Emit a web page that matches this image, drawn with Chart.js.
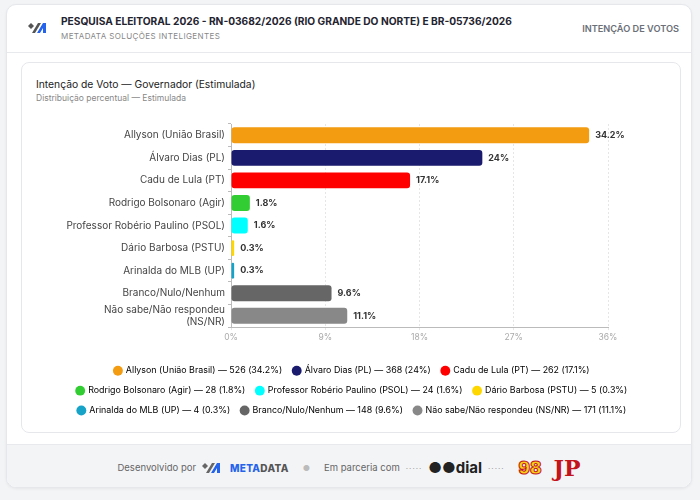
<!DOCTYPE html>
<html lang="pt-BR">
<head>
<meta charset="utf-8">
<title>Intenção de Voto — Governador (Estimulada)</title>
<script src="https://cdn.jsdelivr.net/npm/chart.js@4.4.1/dist/chart.umd.min.js"></script>
<style>
  html, body { margin: 0; padding: 0; }
  body { width: 700px; height: 500px; background: #f3f4f6; font-family: Inter, "Noto Sans", sans-serif; overflow: hidden; }
  .card { position: absolute; left: 6px; top: 4px; width: 686px; height: 484px; background: #fff; border: 1px solid #e5e7eb; border-radius: 10px; box-sizing: border-box; box-shadow: 0 1px 3px rgba(0,0,0,0.06); overflow: hidden; }
  .head { position: absolute; left: 0; top: 0; width: 100%; height: 47px; border-bottom: 1px solid #e8e9ec; }
  .head .logo { position: absolute; left: 21px; top: 17px; }
  .head .t1 { position: absolute; left: 54px; top: 10px; font-size: 10.2px; font-weight: 700; color: #1f2430; white-space: nowrap; }
  .head .t2 { position: absolute; left: 54px; top: 26px; font-size: 8px; color: #888; letter-spacing: 0.4px; }
  .head .right { position: absolute; right: 12px; top: 18px; font-size: 9.2px; font-weight: 600; color: #6b6f78; }
  .inner { position: absolute; left: 14px; top: 57px; width: 660px; height: 371px; border: 1px solid #e5e7eb; border-radius: 8px; box-sizing: border-box; }
  .inner .c1 { position: absolute; left: 14px; top: 15px; font-size: 10.3px; color: #222; }
  .inner .c2 { position: absolute; left: 14px; top: 30px; font-size: 8.5px; color: #888; }
  .chartbox { position: absolute; left: 10px; top: 46px; width: 640px; height: 316px; }
  .foot { position: absolute; left: 0; top: 439px; width: 100%; height: 45px; background: #f3f4f6; border-top: 1px solid #e8e9ec; display: flex; align-items: center; justify-content: center; font-size: 9.5px; color: #666; gap: 6px; }
  .foot .sep { color: #bbb; margin: 0 8px; font-size: 8px; }
  .md { font-weight: 800; font-size: 10px; letter-spacing: 0.3px; }
  .dots { color: #999; letter-spacing: 1px; font-size: 8px; }
  .odial { font-weight: 700; font-size: 15px; color: #222; }
  .n98 { font-weight: 900; font-size: 17px; color: #f7d117; -webkit-text-stroke: 1px #c4141b; margin-left: 8px; }
  .jp { font-weight: 900; font-size: 22px; color: #c4141b; margin-left: 6px; font-family: "DejaVu Serif", serif; }
</style>
</head>
<body>
<div class="card">
  <div class="head">
    <svg class="logo" width="20" height="12" viewBox="0 0 20 12">
      <polygon points="0,4 3,1 6,4 3,7" fill="#555"/>
      <polygon points="4,11 10,1 13,1 7,11" fill="#555"/>
      <polygon points="9,11 15,1 18,1 18,11 15,11 15,6 12,11" fill="#2563eb"/>
    </svg>
    <div class="t1">PESQUISA ELEITORAL 2026 - RN-03682/2026 (RIO GRANDE DO NORTE) E BR-05736/2026</div>
    <div class="t2">METADATA SOLUÇÕES INTELIGENTES</div>
    <div class="right">INTENÇÃO DE VOTOS</div>
  </div>
  <div class="inner">
    <div class="c1">Intenção de Voto — Governador (Estimulada)</div>
    <div class="c2">Distribuição percentual — Estimulada</div>
    <div class="chartbox"><canvas id="myChart"></canvas></div>
  </div>
  <div class="foot">
    <span>Desenvolvido por</span>
    <svg width="22" height="12" viewBox="0 0 22 12">
      <polygon points="0,4 3,1 6,4 3,7" fill="#666"/>
      <polygon points="4,11 10,1 13,1 7,11" fill="#666"/>
      <polygon points="9,11 15,1 18,1 18,11 15,11 15,6 12,11" fill="#2563eb"/>
    </svg>
    <span class="md"><span style="color:#2563eb">META</span><span style="color:#555">DATA</span></span>
    <span class="sep">●</span>
    <span>Em parceria com</span>
    <span class="dots">·····</span><span class="odial">●●dial</span><span class="dots">·····</span>
    <span class="n98">98</span>
    <span class="jp">JP</span>
  </div>
</div>
<script>
var categories = ['Allyson (União Brasil)', 'Álvaro Dias (PL)', 'Cadu de Lula (PT)', 'Rodrigo Bolsonaro (Agir)', 'Professor Robério Paulino (PSOL)', 'Dário Barbosa (PSTU)', 'Arinalda do MLB (UP)', 'Branco/Nulo/Nenhum', 'Não sabe/Não respondeu (NS/NR)'];
var percents = [34.2, 24, 17.1, 1.8, 1.6, 0.3, 0.3, 9.6, 11.1];
var counts = [526, 368, 262, 28, 24, 5, 4, 148, 171];
var colors = ['#f39c12', '#1a1a6e', '#ff0000', '#32cd32', '#00ffff', '#ffd700', '#17a2c8', '#666666', '#888888'];
var xTicks = [0, 9, 18, 27, 36];

var valueLabels = {
  id: 'valueLabels',
  afterDatasetsDraw: function(chart) {
    var ctx = chart.ctx;
    var meta = chart.getDatasetMeta(0);
    ctx.save();
    ctx.font = 'bold 9px Inter, sans-serif';
    ctx.fillStyle = '#333';
    ctx.textAlign = 'left';
    ctx.textBaseline = 'middle';
    meta.data.forEach(function(bar, i) {
      ctx.fillText(percents[i] + '%', bar.x + 6, bar.y);
    });
    ctx.restore();
  }
};

var myChart = document.getElementById('myChart').getContext('2d');
var chart = new Chart(myChart, {
  type: 'bar',
  data: {
    labels: categories,
    datasets: [{
      data: percents,
      backgroundColor: colors,
      borderRadius: 3,
      borderSkipped: false,
      categoryPercentage: 0.8,
      barPercentage: 0.88
    }]
  },
  options: {
    indexAxis: 'y',
    responsive: true,
    maintainAspectRatio: false,
    animation: false,
    layout: { padding: { top: 11.5 } },
    scales: {
      x: {
        min: 0,
        max: 36,
        afterBuildTicks: function(s) { s.ticks = xTicks.map(function(v) { return { value: v }; }); },
        afterFit: function(s) { s.height += 11; },
        ticks: { color: '#aaa', padding: 2, font: { size: 8.5, family: 'Inter' }, callback: function(v) { return v + '%'; } },
        grid: { color: '#e6e6e6', tickLength: 3 },
        border: { color: '#bbb', dash: [2, 2] }
      },
      y: {
        afterFit: function(s) { s.width = 199; },
        ticks: {
          color: '#444',
          padding: 3,
          autoSkip: false,
          font: { size: 10, family: 'Inter' },
          callback: function(v, i) {
            var l = categories[i];
            if (l.indexOf('/') > -1 && l.indexOf('(') > -1) { var k = l.lastIndexOf(' '); return [l.slice(0, k), l.slice(k + 1)]; }
            return l;
          }
        },
        grid: { drawOnChartArea: false, tickLength: 3, color: '#bbb' },
        border: { color: '#bbb' }
      },
      pad: {
        type: 'linear',
        position: 'right',
        afterFit: function(s) { s.width = 64; },
        ticks: { display: false },
        grid: { display: false },
        border: { display: false }
      }
    },
    plugins: {
      tooltip: { enabled: false },
      legend: {
        position: 'bottom',
        labels: {
          usePointStyle: true,
          pointStyle: 'circle',
          boxWidth: 7,
          boxHeight: 7,
          padding: 11,
          color: '#666',
          font: { size: 8.9, family: 'Inter' },
          generateLabels: function() {
            return categories.map(function(c, i) {
              return { text: c + ' — ' + counts[i] + ' (' + percents[i] + '%)', fillStyle: colors[i], strokeStyle: colors[i], lineWidth: 0, pointStyle: 'circle', index: i };
            });
          }
        }
      }
    }
  },
  plugins: [valueLabels]
});
</script>
</body>
</html>
